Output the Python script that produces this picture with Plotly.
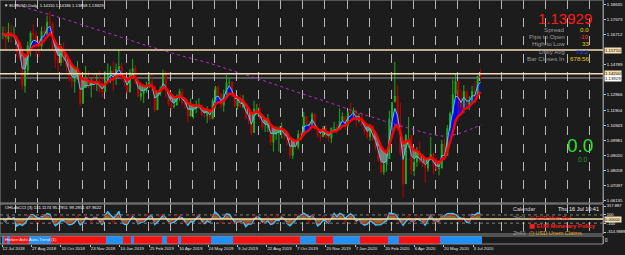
import numpy as np
import pandas as pd
import plotly.graph_objects as go

# ---------------- data (EURUSD, each bar = 3 trading days) ----------------
close = [1.1675,1.1640,1.1685,1.1655,1.1660,1.1555,1.1525,1.1345,1.1440,1.1600,
         1.1680,1.1665,1.1625,1.1595,1.1690,1.1675,1.1750,1.1740,1.1575,1.1510,
         1.1490,1.1560,1.1500,1.1465,1.1385,1.1370,1.1385,1.1430,1.1230,1.1330,
         1.1370,1.1340,1.1365,1.1350,1.1375,1.1320,1.1305,1.1380,1.1420,1.1440,
         1.1390,1.1450,1.1470,1.1390,1.1365,1.1305,1.1430,1.1455,1.1360,1.1275,
         1.1295,1.1310,1.1335,1.1370,1.1340,1.1190,1.1290,1.1325,1.1420,1.1315,
         1.1225,1.1210,1.1220,1.1275,1.1310,1.1235,1.1225,1.1150,1.1190,1.1195,
         1.1215,1.1225,1.1160,1.1155,1.1190,1.1135,1.1250,1.1335,1.1290,1.1220,
         1.1290,1.1365,1.1370,1.1285,1.1215,1.1255,1.1210,1.1220,1.1140,1.1125,
         1.1045,1.1200,1.1200,1.1140,1.1080,1.1080,1.1100,1.0985,1.1035,1.1045,
         1.1065,1.1070,1.1015,1.1000,1.0900,1.0965,1.0955,1.1040,1.1030,1.1150,
         1.1105,1.1095,1.1165,1.1070,1.1030,1.1020,1.1075,1.1020,1.1010,1.1075,
         1.1080,1.1065,1.1120,1.1150,1.1090,1.1175,1.1170,1.1190,1.1120,1.1150,
         1.1095,1.1055,1.1020,1.1090,1.1000,1.0955,1.0870,1.0795,1.0845,1.0880,
         1.1135,1.1240,1.1280,1.1105,1.0915,1.0720,1.1030,1.1030,1.0810,1.0860,
         1.0915,1.0860,1.0855,1.0820,1.0875,1.0910,1.0835,1.0815,1.0820,1.0975,
         1.0900,1.1075,1.1170,1.1290,1.1375,1.1260,1.1205,1.1310,1.1220,1.1250,
         1.1310,1.1285,1.1405,1.1393]
high = [1.1720,1.1720,1.1745,1.1730,1.1720,1.1665,1.1620,1.1535,1.1450,1.1625,
        1.1690,1.1735,1.1690,1.1640,1.1720,1.1720,1.1790,1.1815,1.1750,1.1580,
        1.1530,1.1610,1.1620,1.1530,1.1500,1.1420,1.1455,1.1500,1.1440,1.1350,
        1.1470,1.1440,1.1390,1.1420,1.1420,1.1440,1.1400,1.1440,1.1485,1.1470,
        1.1500,1.1485,1.1570,1.1490,1.1420,1.1380,1.1450,1.1515,1.1475,1.1370,
        1.1345,1.1345,1.1370,1.1420,1.1420,1.1345,1.1300,1.1340,1.1448,1.1440,
        1.1325,1.1260,1.1255,1.1290,1.1325,1.1325,1.1260,1.1230,1.1265,1.1200,
        1.1250,1.1265,1.1225,1.1170,1.1215,1.1195,1.1265,1.1345,1.1350,1.1300,
        1.1320,1.1412,1.1395,1.1370,1.1300,1.1285,1.1290,1.1285,1.1220,1.1190,
        1.1170,1.1250,1.1230,1.1230,1.1150,1.1110,1.1165,1.1095,1.1045,1.1085,
        1.1087,1.1110,1.1075,1.1025,1.0980,1.0970,1.1000,1.1062,1.1060,1.1179,
        1.1150,1.1120,1.1175,1.1170,1.1090,1.1045,1.1090,1.1095,1.1030,1.1080,
        1.1115,1.1100,1.1200,1.1175,1.1130,1.1185,1.1239,1.1205,1.1150,1.1170,
        1.1175,1.1100,1.1060,1.1100,1.1095,1.1000,1.0960,1.0860,1.0860,1.0890,
        1.1185,1.1240,1.1495,1.1350,1.1235,1.0960,1.1040,1.1147,1.1000,1.0925,
        1.0955,1.0990,1.0900,1.0880,1.0885,1.1020,1.0920,1.0890,1.0860,1.1000,
        1.1010,1.1095,1.1180,1.1385,1.1422,1.1380,1.1320,1.1349,1.1315,1.1280,
        1.1345,1.1371,1.1410,1.1452]
low = [1.1640,1.1575,1.1620,1.1620,1.1650,1.1530,1.1510,1.1320,1.1301,1.1410,
       1.1530,1.1640,1.1530,1.1525,1.1570,1.1610,1.1660,1.1720,1.1570,1.1460,
       1.1432,1.1470,1.1490,1.1430,1.1370,1.1335,1.1300,1.1390,1.1216,1.1230,
       1.1360,1.1330,1.1270,1.1320,1.1310,1.1300,1.1270,1.1320,1.1370,1.1360,
       1.1310,1.1350,1.1450,1.1380,1.1335,1.1290,1.1300,1.1400,1.1355,1.1270,
       1.1250,1.1234,1.1300,1.1330,1.1310,1.1176,1.1210,1.1280,1.1320,1.1270,
       1.1215,1.1185,1.1200,1.1220,1.1250,1.1225,1.1200,1.1110,1.1160,1.1135,
       1.1170,1.1200,1.1150,1.1140,1.1107,1.1125,1.1130,1.1200,1.1270,1.1200,
       1.1180,1.1280,1.1340,1.1275,1.1205,1.1195,1.1205,1.1200,1.1130,1.1100,
       1.1027,1.1060,1.1160,1.1130,1.1065,1.1050,1.1050,1.0965,1.0926,1.1000,
       1.0927,1.1010,1.1000,1.0965,1.0885,1.0879,1.0940,1.0940,1.0990,1.1050,
       1.1100,1.1075,1.1100,1.1065,1.1015,1.0990,1.1025,1.1010,1.0990,1.0981,
       1.1065,1.1040,1.1070,1.1125,1.1065,1.1080,1.1160,1.1130,1.1085,1.1110,
       1.1085,1.1035,1.1005,1.0995,1.0995,1.0935,1.0860,1.0785,1.0778,1.0800,
       1.0960,1.1055,1.1240,1.1055,1.0895,1.0636,1.0770,1.0950,1.0780,1.0770,
       1.0830,1.0850,1.0830,1.0727,1.0800,1.0880,1.0780,1.0800,1.0775,1.0820,
       1.0870,1.0900,1.1060,1.1160,1.1270,1.1170,1.1195,1.1170,1.1200,1.1190,
       1.1230,1.1255,1.1275,1.1372]
first_open = 1.1665

# long moving average (purple dotted), read at trading-day indices
ma_long_day = [16, 32, 64, 96, 128, 160, 192, 224, 256, 288, 320, 352, 384, 416, 448, 464, 480, 496, 512, 521]
ma_long_val = [1.1860, 1.1830, 1.1775, 1.1715, 1.1655, 1.1595, 1.1540, 1.1490, 1.1430, 1.1370,
               1.1305, 1.1245, 1.1180, 1.1120, 1.1065, 1.1040, 1.1025, 1.1040, 1.1075, 1.1095]

# date labels (trading-day index -> text)
label_day = [0, 32, 64, 96, 128, 160, 192, 224, 256, 288, 320, 352, 384, 416, 448, 480, 512]
label_text = ["12 Jul 2018", "27 Aug 2018", "10 Oct 2018", "23 Nov 2018", "10 Jan 2019",
              "25 Feb 2019", "10 Apr 2019", "24 May 2019", "9 Jul 2019", "22 Aug 2019",
              "7 Oct 2019", "20 Nov 2019", "7 Jan 2020", "20 Feb 2020", "6 Apr 2020",
              "20 May 2020", "3 Jul 2020"]

price_ticks = [1.18635, 1.17673, 1.16712, 1.14789, 1.12866,
               1.11904, 1.10943, 1.09981, 1.09020, 1.08058, 1.07097, 1.06135]
level_lines = [1.15710, 1.14200]
bid = 1.13929
cci_ticks = [317.887, 100, -100, -314.9889]
cci_tick_text = ["317.887", "100", "-100", "-314.9889"]

# ---------------- derived series ----------------
n = len(close)
bar_day = [3 * j + 1 for j in range(n)]
open_ = [first_open] + close[:-1]
high = [max(h, o, c) for h, o, c in zip(high, open_, close)]
low = [min(l, o, c) for l, o, c in zip(low, open_, close)]
df = pd.DataFrame({"o": open_, "h": high, "l": low, "c": close})
fast = df.c.ewm(span=3, adjust=False).mean()
slow = df.c.ewm(span=8, adjust=False).mean()

tp = (df.h + df.l + df.c) / 3
def cci(p):
    sma = tp.rolling(p, min_periods=1).mean()
    md = tp.rolling(p, min_periods=1).apply(lambda s: np.mean(np.abs(s - s.mean())), raw=True)
    v = (tp - sma) / (0.015 * md.replace(0, np.nan))
    return v.fillna(0).clip(-330, 330)
cci_main = cci(6)
cci_fast = cci(3)
trend_col = ["#1e90ff" if f >= s else "#ff1010" for f, s in zip(fast, slow)]

# segments for the bar-chart (wick low->high, body open->close), split by direction
def segs(up, a, b):
    xs, ys = [], []
    for d, o, c, lo, hi in zip(bar_day, df.o, df.c, a, b):
        if (c >= o) == up:
            xs += [d, d, None]
            ys += [lo, hi, None]
    return xs, ys

# ---------------- figure ----------------
BG = "#1c1c1c"
FONT = "Liberation Sans, Arial, sans-serif"
W, H = 625, 255
ML, MR, MT, MB = 0, 22, 0, 10
PH = H - MT - MB
def dom(top_px, bot_px):
    return [1 - bot_px / PH, 1 - top_px / PH]

fig = go.Figure()
upper = np.maximum(fast, slow)
lower = np.minimum(fast, slow)
fig.add_trace(go.Scatter(x=bar_day, y=slow, mode="lines", line=dict(width=0), xaxis="x", yaxis="y"))
fig.add_trace(go.Scatter(x=bar_day, y=upper, mode="lines", line=dict(width=0), fill="tonexty",
                         fillcolor="#0000ff", xaxis="x", yaxis="y"))
fig.add_trace(go.Scatter(x=bar_day, y=slow, mode="lines", line=dict(width=0), xaxis="x", yaxis="y"))
fig.add_trace(go.Scatter(x=bar_day, y=lower, mode="lines", line=dict(width=0), fill="tonexty",
                         fillcolor="#808080", xaxis="x", yaxis="y"))

UP, DN = "#1faa1f", "#c00000"
for up, col in [(True, UP), (False, DN)]:
    wx, wy = segs(up, df.l, df.h)
    fig.add_trace(go.Scatter(x=wx, y=wy, mode="lines", line=dict(color=col, width=1),
                             xaxis="x", yaxis="y", hoverinfo="skip"))
    bx, by = segs(up, np.minimum(df.o, df.c), np.maximum(df.o, df.c))
    fig.add_trace(go.Scatter(x=bx, y=by, mode="lines", line=dict(color=col, width=2),
                             xaxis="x", yaxis="y", hoverinfo="skip"))

fig.add_trace(go.Scatter(x=bar_day, y=fast, mode="lines", line=dict(color="#4fc8f0", width=1),
                         xaxis="x", yaxis="y"))
fig.add_trace(go.Scatter(x=bar_day, y=slow, mode="lines", line=dict(color="#ff0000", width=2.4),
                         xaxis="x", yaxis="y"))
fig.add_trace(go.Scatter(x=ma_long_day, y=ma_long_val, mode="lines", line_shape="spline",
                         line=dict(color="#b030c0", width=1, dash="dot"), xaxis="x", yaxis="y"))

# CCI pane
fig.add_trace(go.Scatter(x=bar_day, y=cci_main, mode="lines", fill="tozeroy",
                         fillcolor="rgba(150,120,60,0.85)", line=dict(color="#3cc8ff", width=1.3),
                         xaxis="x", yaxis="y2"))
fig.add_trace(go.Scatter(x=bar_day, y=cci_fast, mode="lines", line=dict(color="#d00000", width=0.8),
                         xaxis="x", yaxis="y2"))

# trend strip
fig.add_trace(go.Bar(x=bar_day, y=[1] * n, marker=dict(color=trend_col, line=dict(width=0)),
                     width=3, xaxis="x2", yaxis="y3"))

xr = [(0 - 2) / 0.92, (W - MR - 2) / 0.92]
price_top = 1.18635 + 4 * 0.000635
price_bot = 1.18635 - (203 - 4) * 0.000635
cci_per_px = (317.887 + 314.9889) / 26
cci_top = 317.887 + 2 * cci_per_px
cci_bot = -314.9889 - 2 * cci_per_px

fig.update_layout(
    width=W, height=H, margin=dict(l=ML, r=MR, t=MT, b=MB, autoexpand=False),
    paper_bgcolor=BG, plot_bgcolor=BG, showlegend=False, bargap=0,
    font=dict(family=FONT, size=5, color="#e0e0e0"),
    xaxis=dict(domain=[0, 1], range=xr, anchor="y2", showticklabels=False, ticks="",
               showgrid=True, gridcolor="rgba(235,235,235,0.75)", griddash="dash", gridwidth=1,
               tick0=15, dtick=24, zeroline=False, automargin=False),
    xaxis2=dict(domain=[0, 1], range=xr, anchor="y3", matches="x", showgrid=False, zeroline=False,
                tickvals=label_day, ticktext=label_text, ticks="outside", ticklen=2, tickangle=0,
                tickcolor="#c0c0c0", ticklabelposition="outside right", automargin=False,
                tickfont=dict(size=4.3, color="#e6e6e6", family=FONT)),
    yaxis=dict(domain=dom(0, 203), range=[price_bot, price_top], side="right", showgrid=False,
               zeroline=False, tickvals=price_ticks, ticktext=[f"{v:.5f}" for v in price_ticks],
               ticks="outside", ticklen=2, tickcolor="#c0c0c0", automargin=False,
               tickfont=dict(size=4.3, color="#f0f0f0"), showline=True, linecolor="#8a8a8a"),
    yaxis2=dict(domain=dom(204, 234), range=[cci_bot, cci_top], side="right", zeroline=False,
                showgrid=False, tickvals=cci_ticks, ticktext=cci_tick_text, automargin=False,
                ticks="outside", ticklen=2, tickcolor="#c0c0c0",
                tickfont=dict(size=4.1, color="#f0f0f0"), showline=True, linecolor="#8a8a8a"),
    yaxis3=dict(domain=dom(236, 244), range=[0, 1], side="right", showgrid=False, zeroline=False,
                tickvals=[0.5], ticktext=["0"], ticks="", tickfont=dict(size=4.5, color="#f0f0f0"),
                showline=True, linecolor="#8a8a8a", automargin=False),
)

shapes = []
# pane borders
for yr in ["y domain", "y2 domain", "y3 domain"]:
    shapes.append(dict(type="rect", xref="paper", yref=yr, x0=0, x1=1, y0=0, y1=1,
                       line=dict(color="#8a8a8a", width=1), layer="above"))
# horizontal levels
for lv in level_lines:
    shapes.append(dict(type="line", xref="paper", yref="y", x0=0, x1=1, y0=lv, y1=lv,
                       line=dict(color="#f5deb3", width=1.5), layer="above"))
shapes.append(dict(type="line", xref="paper", yref="y", x0=0, x1=1, y0=bid, y1=bid,
                   line=dict(color="#5a5a5a", width=2), layer="below"))
# CCI levels
for lv in [100, -100]:
    shapes.append(dict(type="line", xref="paper", yref="y2", x0=0, x1=1, y0=lv, y1=lv,
                       line=dict(color="#9a9a9a", width=0.8, dash="dot"), layer="below"))
shapes.append(dict(type="line", xref="paper", yref="y2", x0=0, x1=1, y0=0, y1=0,
                   line=dict(color="#f5e6a8", width=1.6), layer="above"))
fig.update_layout(shapes=shapes)

ann = []
def txt(x_px, y_px, s, size=6, color="#e0e0e0", anchor="left", bold=False):
    ann.append(dict(xref="paper", yref="paper", x=x_px / (W - MR), y=1 - y_px / PH,
                    text=f"<b>{s}</b>" if bold else s, showarrow=False, xanchor=anchor,
                    yanchor="middle", font=dict(size=size, color=color, family=FONT)))

# price boxes on axis
for lv, bg in [(level_lines[0], "#f5deb3"), (level_lines[1], "#f5deb3"), (bid, "#ffffff")]:
    ann.append(dict(xref="paper", yref="y", x=1, y=lv, xanchor="left", yanchor="middle",
                    text=f"{lv:.5f}", showarrow=False, bgcolor=bg, borderpad=0, xshift=1,
                    font=dict(size=4.3, color="#000000", family=FONT)))
ann.append(dict(xref="paper", yref="y2", x=1, y=0, xanchor="left", yanchor="middle",
                text="0.00000", showarrow=False, bgcolor="#f5deb3", borderpad=0, xshift=1,
                font=dict(size=4.1, color="#000000", family=FONT)))

txt(2, 5, "▼ EURUSD,Daily  1.14110 1.14186 1.13858 1.13929", size=4.2, color="#f0f0f0")
txt(594, 18.5, "1.13929", size=15, color="#ff1a1a", anchor="right")
rows = [("Spread", "0.0", "#e8d000"), ("Pips to Open", "-10", "#ff2020"),
        ("High to Low", "33", "#e8d000"), ("Daily Avg", "73.2", "#3050ff"),
        ("Bar Closes In", "678:56", "#e8d000")]
for i, (lab, val, col) in enumerate(rows):
    y = 29.5 + i * 7.2
    txt(567, y, lab, size=6.2, color="#9a9a9a", anchor="right")
    txt(591, y, val, size=6.2, color=col, anchor="right")
txt(595, 145, "0.0", size=19, color="#33dd33", anchor="right")
txt(589, 159.5, "0.0", size=6.5, color="#2aa02a", anchor="right")

txt(3, 207.5, "OHLdbCCI (3) 131.1174 95.2951 99.2951 67.9622", size=4.3, color="#f0f0f0")
txt(3, 239.5, "Heiken Ashi Auto-Trend (1)", size=4.3, color="#f0f0f0")

# calendar
txt(511, 209, "Calendar", size=5.5, color="#d0d0d0")
txt(601, 209, "Thu 16 Jul 10:41", size=5.5, color="#f0f0f0", anchor="right")
txt(511, 218, "2h04", size=5.5, color="#a0a0a0")
txt(527, 218, "◷ EUR Main Ref", size=5.5, color="#ff2020")
txt(527, 225.5, "▣ EUR Monetary Policy", size=5.8, color="#ff2020", bold=True)
txt(511, 233, "2h49", size=5.5, color="#a0a0a0")
txt(527, 233, "◷ USD Unem Claims", size=5.5, color="#e0a020")
fig.update_layout(annotations=ann)

fig.write_html("out.html")
